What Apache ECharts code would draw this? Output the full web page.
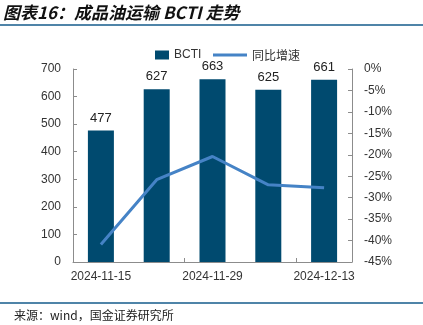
<!DOCTYPE html>
<html>
<head>
<meta charset="utf-8">
<script src="https://cdn.jsdelivr.net/npm/echarts@6/dist/echarts.min.js"></script>
<style>
  html, body { margin: 0; padding: 0; background: #fff; }
  #chart { width: 423px; height: 325px; }
</style>
</head>
<body>
<div id="chart"></div>
<script>
// BCTI weekly readings and year-on-year change
const categories = ['2024-11-15', '2024-11-22', '2024-11-29', '2024-12-06', '2024-12-13'];
const bctiValues = [477, 627, 663, 625, 661];
const yoyValues = [-40.9, -25.8, -20.4, -27.0, -27.7];
const leftTicks = [0, 100, 200, 300, 400, 500, 600, 700];
const rightTicks = [0, -5, -10, -15, -20, -25, -30, -35, -40, -45];

const chart = echarts.init(document.getElementById('chart'), null, { renderer: 'canvas' });
const axisFont = { color: '#333', fontSize: 12, fontFamily: 'Liberation Sans, Arial, sans-serif' };
const axisLine = { show: true, lineStyle: { color: '#8c8c8c', width: 1 } };

chart.setOption({
  animation: false,
  title: {
    text: '图表16：成品油运输 BCTI 走势',
    left: 0, top: 2, padding: [2, 3],
    textStyle: { fontSize: 17, fontWeight: 'bold', fontStyle: 'italic', color: '#111',
      fontFamily: 'Noto Sans CJK SC, sans-serif' }
  },
  graphic: [
    { type: 'rect', shape: { x: 0, y: 24, width: 423, height: 2 }, style: { fill: '#4f84a8' } },
    { type: 'rect', shape: { x: 0, y: 302, width: 423, height: 2 }, style: { fill: '#4f84a8' } },
    { type: 'text', left: 14, top: 309,
      style: { text: '来源：wind，国金证券研究所', fontSize: 12, fill: '#222',
        fontFamily: 'Noto Sans CJK SC, sans-serif' } }
  ],
  legend: [
    { data: ['BCTI'], left: 150, top: 44, icon: 'rect', itemWidth: 14, itemHeight: 9, itemGap: 6,
      textStyle: { color: '#333', fontSize: 12, fontFamily: 'Liberation Sans, Arial, sans-serif' } },
    { data: ['同比增速'], left: 208, top: 44, icon: 'rect', itemWidth: 34, itemHeight: 3,
      textStyle: { color: '#333', fontSize: 12, fontFamily: 'Noto Sans CJK SC, sans-serif' } }
  ],
  grid: { left: 73, right: 71, top: 69, bottom: 63 },
  xAxis: {
    type: 'category',
    data: categories,
    axisLine: axisLine,
    axisTick: { show: true, inside: true, length: 4, lineStyle: { color: '#8c8c8c' } },
    axisLabel: Object.assign({ interval: 1, margin: 9 }, axisFont)
  },
  yAxis: [
    {
      type: 'value', min: leftTicks[0], max: leftTicks[leftTicks.length - 1], interval: 100,
      axisLine: axisLine,
      axisTick: { show: true, inside: true, length: 4, lineStyle: { color: '#8c8c8c' } },
      splitLine: { show: false },
      axisLabel: Object.assign({ margin: 12 }, axisFont)
    },
    {
      type: 'value', min: rightTicks[rightTicks.length - 1], max: rightTicks[0], interval: 5,
      position: 'right',
      axisLine: axisLine,
      axisTick: { show: true, inside: true, length: 4, lineStyle: { color: '#8c8c8c' } },
      splitLine: { show: false },
      axisLabel: Object.assign({ margin: 12, formatter: v => v + '%' }, axisFont)
    }
  ],
  series: [
    {
      name: 'BCTI', type: 'bar', data: bctiValues, barWidth: 26,
      itemStyle: { color: '#004a6f' },
      label: { show: true, position: 'top', distance: 6, color: '#222', fontSize: 13,
        fontFamily: 'Liberation Sans, Arial, sans-serif' }
    },
    {
      name: '同比增速', type: 'line', yAxisIndex: 1, data: yoyValues,
      symbol: 'none', lineStyle: { color: '#4583c6', width: 3 },
      itemStyle: { color: '#4583c6' }
    }
  ]
});
</script>
</body>
</html>
